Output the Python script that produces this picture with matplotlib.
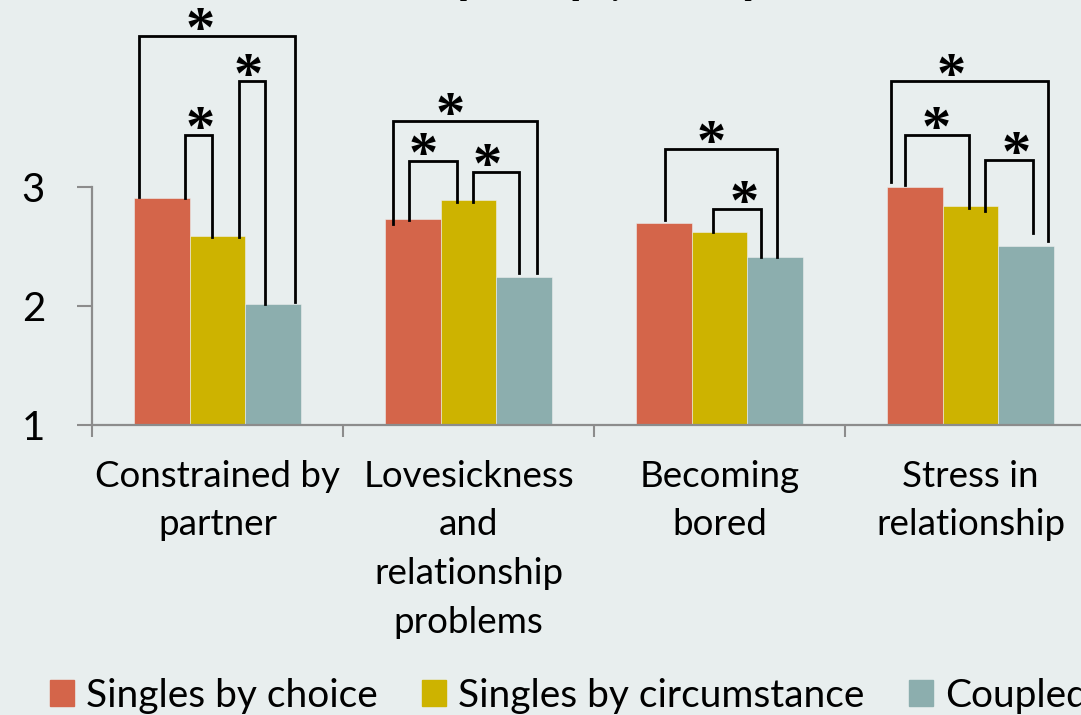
import numpy as np
import matplotlib.pyplot as plt
from matplotlib.patches import Patch

# Data
categories = ['Constrained by\npartner', 'Lovesickness\nand\nrelationship\nproblems',
              'Becoming\nbored', 'Stress in\nrelationship']
series_names = ['Singles by choice', 'Singles by circumstance', 'Coupled']
singles_choice = [2.91, 2.73, 2.70, 3.00]
singles_circumstance = [2.59, 2.89, 2.62, 2.84]
coupled = [2.02, 2.24, 2.41, 2.50]
colors = ['#D4654A', '#CDB300', '#8CAEAE']
title = 'Drawbacks of partnership, by relationship status'

# Significance brackets: group, left leg, right leg (in bar widths from group centre),
# top, left leg end, right leg end, star position (bar widths from centre)
brackets = [
    (0, -1.41, 1.38, 4.27, 2.92, 2.03, -0.31),
    (0, -0.58, -0.10, 3.44, 2.91, 2.58, -0.31),
    (0, 0.39, 0.84, 3.89, 2.58, 2.02, 0.54),
    (1, -1.35, 1.22, 3.555, 2.69, 2.28, -0.33),
    (1, -1.06, -0.21, 3.22, 2.72, 2.87, -0.81),
    (1, 0.08, 0.90, 3.13, 2.87, 2.28, 0.34),
    (2, -0.97, 1.02, 3.32, 2.72, 2.41, -0.14),
    (2, -0.12, 0.75, 2.815, 2.62, 2.41, 0.44),
    (3, -1.42, 1.39, 3.89, 3.045, 2.55, -0.34),
    (3, -1.17, -0.03, 3.44, 3.02, 2.82, -0.62),
    (3, 0.26, 1.11, 3.23, 2.80, 2.61, 0.81),
]

bg = '#E8EEEE'
grey = '#8C8C8C'
plt.rcParams['font.family'] = ['Lato', 'DejaVu Sans']

fig = plt.figure(figsize=(10.81, 7.15), dpi=100, facecolor=bg)
ax = fig.add_axes([92 / 1081, 290 / 715, 1004 / 1081, 425 / 715])
ax.set_facecolor(bg)

x = np.arange(len(categories))
w = 0.223
for i, vals in enumerate([singles_choice, singles_circumstance, coupled]):
    ax.bar(x + (i - 1) * w, vals, width=w, bottom=0, color=colors[i],
           edgecolor='#EDEFEF', linewidth=0.4, zorder=2)

ax.set_xlim(-0.5, 3.5)
ax.set_ylim(1, 1 + 425 / 119)

# brackets and stars
for g, l, r, top, lb, rb, sx in brackets:
    xl, xr = g + l * w, g + r * w
    ax.plot([xl, xl, xr, xr], [lb, top, top, rb], color='black', lw=2,
            solid_joinstyle='miter', clip_on=False, zorder=3)
    ax.annotate('*', xy=(g + sx * w, top), xytext=(0, -7.5), textcoords='offset points',
                ha='center', va='baseline', fontsize=42, fontweight='bold',
                family='Liberation Serif', annotation_clip=False)

for s in ['top', 'right']:
    ax.spines[s].set_visible(False)
for s in ['left', 'bottom']:
    ax.spines[s].set_color(grey)
    ax.spines[s].set_linewidth(1.6)
ax.spines['left'].set_bounds(1, 3)

ax.set_yticks([1, 2, 3])
ax.tick_params(axis='y', length=10.8, width=1.5, color=grey, labelsize=29, pad=23)
ax.set_xticks(np.arange(-0.5, 4, 1))
ax.set_xticklabels([])
ax.tick_params(axis='x', which='major', length=8.6, width=1.5, color=grey)
ax.set_xticks(x, minor=True)
ax.set_xticklabels(categories, minor=True, fontsize=26.5, linespacing=1.58)
ax.tick_params(axis='x', which='minor', length=0, pad=25)

handles = [Patch(color=c) for c in colors]
fig.legend(handles, series_names, loc='lower left', bbox_to_anchor=(0.014, -0.047),
           ncol=3, frameon=False, fontsize=28, handlelength=0.62, handleheight=0.62,
           handletextpad=0.3, columnspacing=1.15)

fig.text(0.283, 1.006, title, family='Liberation Serif', fontweight='bold',
         fontsize=18, va='baseline', ha='left')

fig.savefig('out.png', dpi=100, facecolor=bg)
